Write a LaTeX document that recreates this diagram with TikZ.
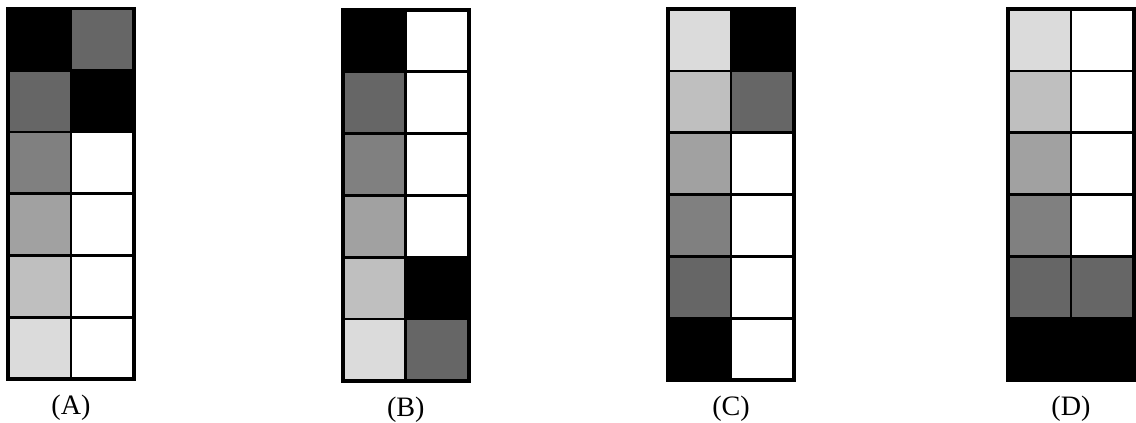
\documentclass[tikz,border=0pt]{standalone}
\usepackage{fontspec}
\setmainfont{Liberation Serif}
\usetikzlibrary{positioning}

\definecolor{shadeA}{gray}{0.40}
\definecolor{shadeB}{gray}{0.50}
\definecolor{shadeC}{gray}{0.63}
\definecolor{shadeD}{gray}{0.75}
\definecolor{shadeE}{gray}{0.86}

\tikzset{
  cell/.style={draw=black, line width=2pt},
  frame/.style={draw=black, line width=2.6pt},
  tag/.style={font=\fontsize{20}{23}\selectfont, inner sep=0pt}
}

% #1,#2 lower left corner, #3 name, #4 rows from top: left/right
\newcommand{\panel}[4]{%
  \foreach \l/\r [count=\i] in {#4} {
    \draw[cell, fill=\l] (#1, #2+9.27-\i*1.545) rectangle ++(1.575,1.545);
    \draw[cell, fill=\r] (#1+1.575, #2+9.27-\i*1.545) rectangle ++(1.575,1.545);
  }
  \draw[frame] (#1,#2) rectangle ++(3.15,9.27);
  \coordinate (#3bot) at (#1+1.575,#2);
  \node[tag, below=0.4cm of #3bot] (#3) {(#3)};
}

\begin{document}
\begin{tikzpicture}

  \useasboundingbox (0,0) rectangle (28.4,10.55);

  \panel{0.2}{1.07}{A}{black/shadeA, shadeA/black, shadeB/white,
    shadeC/white, shadeD/white, shadeE/white}
  \panel{8.57}{1.03}{B}{black/white, shadeA/white, shadeB/white,
    shadeC/white, shadeD/black, shadeE/shadeA}
  \panel{16.7}{1.05}{C}{shadeE/black, shadeD/shadeA, shadeC/white,
    shadeB/white, shadeA/white, black/white}
  \panel{25.2}{1.05}{D}{shadeE/white, shadeD/white, shadeC/white,
    shadeB/white, shadeA/shadeA, black/black}

\end{tikzpicture}
\end{document}
